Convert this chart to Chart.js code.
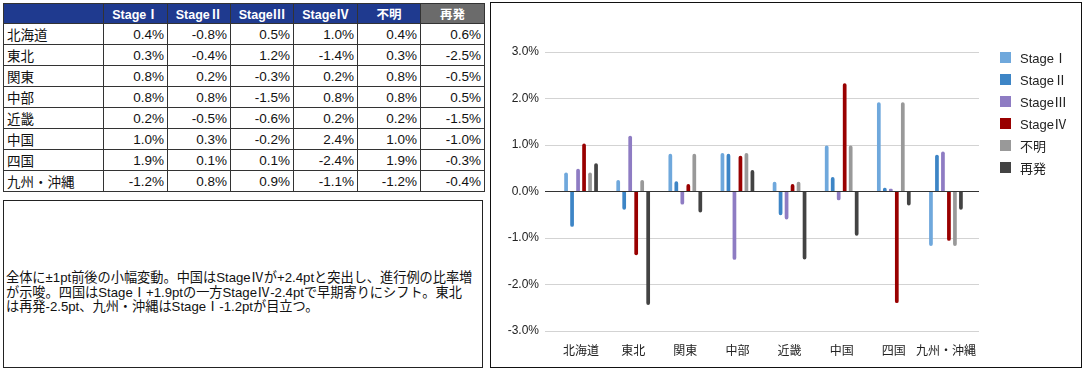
<!DOCTYPE html>
<html lang="ja">
<head>
<meta charset="utf-8">
<script src="https://cdn.jsdelivr.net/npm/chart.js@4/dist/chart.umd.min.js"></script>
<style>
  body { margin: 0; background: #fff; font-family: "Liberation Sans", Arial, "Noto Sans CJK JP", sans-serif; color: #111; }
  #page { position: relative; width: 1087px; height: 375px; }
  #tbl { position: absolute; left: 3px; top: 3px; border-collapse: collapse; table-layout: fixed; width: 481px; }
  #tbl th, #tbl td { border: 1px solid #333; height: 20px; padding: 0 3px; font-size: 13.5px; white-space: nowrap; }
  #tbl th { background: #1f3a8f; color: #fff; font-weight: bold; font-size: 12.5px; height: 19px; text-align: center; }
  #tbl th.gray { background: #6b6b6b; }
  #tbl td { text-align: right; }
  #tbl td.name { text-align: left; }
  #note { position: absolute; left: 3px; top: 200px; width: 478px; height: 166px; border: 1px solid #222; }
  #note div.ln { position: absolute; left: 2px; height: 14px; line-height: 14px; font-size: 13.2px; white-space: nowrap; }
  #chartBox { position: absolute; left: 490px; top: 2px; width: 590px; height: 364px; border: 1px solid #111; }
  #chartBox canvas { position: absolute; left: 0; top: 0; }
  #legend { position: absolute; left: 509px; top: 44px; }
  .item { height: 21.9px; display: flex; align-items: center; font-size: 13px; color: #222; }
  .sw { width: 11px; height: 11px; margin-right: 9px; }
</style>
</head>
<body>
<div id="page">
  <table id="tbl">
    <colgroup>
      <col style="width:100px"><col style="width:64px"><col style="width:63px"><col style="width:63px">
      <col style="width:64px"><col style="width:63px"><col style="width:64px">
    </colgroup>
    <thead><tr id="headRow"><th></th></tr></thead>
    <tbody id="tbody"></tbody>
  </table>
  <div id="note">
    <div class="ln" style="top:70px">全体に±1pt前後の小幅変動。中国はStageⅣが+2.4ptと突出し、進行例の比率増</div>
    <div class="ln" style="top:84.5px">が示唆。四国はStageⅠ+1.9ptの一方StageⅣ-2.4ptで早期寄りにシフト。東北</div>
    <div class="ln" style="top:99px">は再発-2.5pt、九州・沖縄はStageⅠ-1.2ptが目立つ。</div>
  </div>
  <div id="chartBox">
    <canvas id="chart" width="590" height="364"></canvas>
    <div id="legend"></div>
  </div>
</div>
<script>
// categories and series names
const regions = ['北海道', '東北', '関東', '中部', '近畿', '中国', '四国', '九州・沖縄'];
const seriesNames = ['StageⅠ', 'StageⅡ', 'StageⅢ', 'StageⅣ', '不明', '再発'];
const seriesColors = ['#6fa8dc', '#3d85c6', '#8e7cc3', '#990000', '#999999', '#434343'];

// table values (as printed)
const tableStage1 = ['0.4%', '0.3%', '0.8%', '0.8%', '0.2%', '1.0%', '1.9%', '-1.2%'];
const tableStage2 = ['-0.8%', '-0.4%', '0.2%', '0.8%', '-0.5%', '0.3%', '0.1%', '0.8%'];
const tableStage3 = ['0.5%', '1.2%', '-0.3%', '-1.5%', '-0.6%', '-0.2%', '0.1%', '0.9%'];
const tableStage4 = ['1.0%', '-1.4%', '0.2%', '0.8%', '0.2%', '2.4%', '-2.4%', '-1.1%'];
const tableUnknown = ['0.4%', '0.3%', '0.8%', '0.8%', '0.2%', '1.0%', '1.9%', '-1.2%'];
const tableRelapse = ['0.6%', '-2.5%', '-0.5%', '0.5%', '-1.5%', '-1.0%', '-0.3%', '-0.4%'];

// chart values (percentage points)
const stage1 = [0.41, 0.25, 0.81, 0.83, 0.21, 0.99, 1.92, -1.17];
const stage2 = [-0.76, -0.39, 0.22, 0.81, -0.51, 0.31, 0.08, 0.79];
const stage3 = [0.49, 1.20, -0.28, -1.47, -0.60, -0.19, 0.06, 0.86];
const stage4 = [1.03, -1.37, 0.16, 0.77, 0.16, 2.33, -2.40, -1.06];
const unknown = [0.41, 0.25, 0.81, 0.83, 0.21, 0.99, 1.92, -1.17];
const relapse = [0.61, -2.44, -0.45, 0.46, -1.46, -0.95, -0.30, -0.39];

const yTicks = [-3, -2, -1, 0, 1, 2, 3];

// --- table ---
const headRow = document.getElementById('headRow');
seriesNames.forEach((name, i) => {
    const th = document.createElement('th');
    th.textContent = name;
    if (i === 5) th.classList.add('gray');
    headRow.appendChild(th);
});
const tableCols = [tableStage1, tableStage2, tableStage3, tableStage4, tableUnknown, tableRelapse];
const tbody = document.getElementById('tbody');
regions.forEach((region, r) => {
    const row = tbody.insertRow();
    const nameCell = row.insertCell();
    nameCell.textContent = region;
    nameCell.className = 'name';
    tableCols.forEach(col => { row.insertCell().textContent = col[r]; });
});

// --- legend ---
const legend = document.getElementById('legend');
seriesNames.forEach((name, i) => {
    const item = document.createElement('div');
    item.className = 'item';
    item.innerHTML = '<span class="sw" style="background:' + seriesColors[i] + '"></span>' + name;
    legend.appendChild(item);
});

// --- chart ---
const seriesData = [stage1, stage2, stage3, stage4, unknown, relapse];
const tickFont = { family: '"Liberation Sans", Arial, "Noto Sans CJK JP", sans-serif', size: 12 };

new Chart(document.getElementById('chart'), {
    type: 'bar',
    data: {
        labels: regions,
        datasets: seriesNames.map((name, i) => ({
            label: name,
            data: seriesData[i],
            backgroundColor: seriesColors[i],
            borderRadius: 2,
            barPercentage: 0.62,
            categoryPercentage: 0.69
        }))
    },
    options: {
        responsive: false,
        animation: false,
        layout: { padding: { top: 49, right: 102, bottom: 0, left: 0 } },
        plugins: { legend: { display: false }, tooltip: { enabled: false } },
        scales: {
            x: {
                afterFit: scale => { scale.height = 36; },
                grid: { display: false },
                border: { display: false },
                ticks: { color: '#222', font: tickFont, padding: 5, maxRotation: 0, autoSkip: false }
            },
            y: {
                min: -3, max: 3,
                afterBuildTicks: scale => { scale.ticks = yTicks.map(v => ({ value: v })); },
                afterFit: scale => { scale.width = 64; },
                border: { display: false },
                grid: {
                    color: ctx => ctx.tick && ctx.tick.value === 0 ? '#333' : '#d3d3d3',
                    tickLength: 10
                },
                ticks: {
                    color: '#222', font: tickFont, padding: 6,
                    callback: v => v.toFixed(1) + '%'
                }
            },
            yRight: {
                position: 'right',
                min: -3, max: 3,
                afterBuildTicks: scale => { scale.ticks = yTicks.map(v => ({ value: v })); },
                afterFit: scale => { scale.width = 7; },
                border: { display: false },
                grid: {
                    drawOnChartArea: false,
                    color: ctx => ctx.tick && ctx.tick.value === 0 ? '#333' : '#d3d3d3',
                    tickLength: 7
                },
                ticks: { display: false }
            }
        }
    }
});
</script>
</body>
</html>
